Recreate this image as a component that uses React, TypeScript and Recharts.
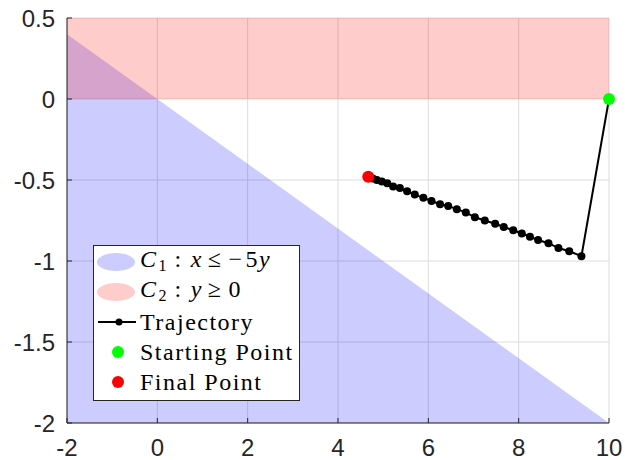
import React from 'react';
import { ComposedChart, Area, Line, XAxis, YAxis, CartesianGrid, Legend } from 'recharts';

const xTicks = [-2, 0, 2, 4, 6, 8, 10];
const yTicks = [-2, -1.5, -1, -0.5, 0, 0.5];

// region boundaries sampled at the x-limits
const regionX = [-2, 10];
const c1Upper = [0.4, -2]; // x <= -5y
const c2Upper = [0.5, 0.5]; // y >= 0

const trajX = [10, 9.39, 9.12, 8.88, 8.66, 8.43, 8.25, 8.07, 7.88, 7.67, 7.48, 7.25, 7.03, 6.83, 6.63, 6.44, 6.26, 6.07, 5.89, 5.7, 5.53, 5.37, 5.22, 5.09, 4.97, 4.86, 4.77, 4.67];
const trajY = [0, -0.97, -0.94, -0.92, -0.89, -0.87, -0.85, -0.83, -0.81, -0.79, -0.77, -0.75, -0.73, -0.7, -0.68, -0.66, -0.65, -0.63, -0.61, -0.59, -0.57, -0.55, -0.54, -0.52, -0.51, -0.5, -0.49, -0.48];

const startX = [10];
const startY = [0];
const finalX = [4.67];
const finalY = [-0.48];

const regionData = regionX.map((x, i) => ({ x, c1: c1Upper[i], c2: c2Upper[i] }));
const trajData = trajX.map((x, i) => ({ x, y: trajY[i] }));
const startData = startX.map((x, i) => ({ x, y: startY[i] }));
const finalData = finalX.map((x, i) => ({ x, y: finalY[i] }));

const AXIS = '#262626';

const Row = ({ icon, children }: { icon: React.ReactNode; children: React.ReactNode }) => (
  <div style={{ display: 'flex', alignItems: 'center', height: 30 }}>
    <svg width={46} height={30} style={{ flex: 'none' }}>{icon}</svg>
    <div style={{ whiteSpace: 'nowrap', lineHeight: '30px' }}>{children}</div>
  </div>
);

const sub = { fontSize: 16, verticalAlign: '-4px', letterSpacing: 0 } as React.CSSProperties;

const LegendBox = () => (
  <div
    style={{
      border: '1px solid ' + AXIS,
      background: '#fff',
      width: 207,
      height: 156,
      boxSizing: 'border-box',
      paddingTop: 1,
      fontFamily: '"Liberation Serif", serif',
      fontSize: 24,
      letterSpacing: '1.5px',
      color: '#000',
    }}
  >
    <Row icon={<ellipse cx={22} cy={15} rx={19} ry={9} fill="blue" fillOpacity={0.2} />}>
      <i style={{ marginRight: 1 }}>C</i><span style={sub}>1</span>
      <span style={{ margin: '0 8px' }}>:</span>
      <i>x</i>
      <span style={{ margin: '0 6px 0 5px' }}>≤</span>
      <span style={{ marginRight: 2 }}>−</span>5<i>y</i>
    </Row>
    <Row icon={<ellipse cx={22} cy={15} rx={19} ry={9} fill="red" fillOpacity={0.2} />}>
      <i style={{ marginRight: 1 }}>C</i><span style={sub}>2</span>
      <span style={{ margin: '0 8px' }}>:</span>
      <i>y</i>
      <span style={{ margin: '0 6px 0 5px' }}>≥</span>0
    </Row>
    <Row
      icon={
        <g>
          <line x1={4} y1={15} x2={42} y2={15} stroke="#000" strokeWidth={2} />
          <circle cx={25} cy={15} r={3.5} fill="#000" />
        </g>
      }
    >
      Trajectory
    </Row>
    <Row icon={<circle cx={24} cy={15} r={6} fill="#00ff00" />}>Starting Point</Row>
    <Row icon={<circle cx={24} cy={15} r={6} fill="#ff0000" />}>Final Point</Row>
  </div>
);

const tickStyle = { fontFamily: '"Liberation Sans", Arial, sans-serif', fontSize: 24, fill: AXIS };

export default function App() {
  return (
    <div style={{ position: 'absolute', left: 0, top: 0, width: 625, height: 460, background: '#fff' }}>
      <ComposedChart width={625} height={460} data={regionData} margin={{ top: 18, right: 16, bottom: 0, left: 0 }}>
        <CartesianGrid stroke="#dcdcdc" strokeWidth={1} horizontalValues={yTicks} verticalValues={xTicks} />
        <XAxis
          type="number"
          dataKey="x"
          domain={[-2, 10]}
          ticks={xTicks}
          height={37}
          tickSize={-5}
          tickMargin={21}
          tick={tickStyle}
          stroke={AXIS}
          axisLine={{ stroke: AXIS }}
          tickLine={{ stroke: AXIS }}
        />
        <YAxis
          type="number"
          domain={[-2, 0.5]}
          ticks={yTicks}
          width={67}
          tickSize={-5}
          tickMargin={17}
          tick={tickStyle}
          stroke={AXIS}
          axisLine={{ stroke: AXIS }}
          tickLine={{ stroke: AXIS }}
        />
        <Area
          type="linear"
          dataKey="c1"
          baseValue={-2}
          stroke="none"
          fill="blue"
          fillOpacity={0.2}
          isAnimationActive={false}
          dot={false}
          activeDot={false}
        />
        <Area
          type="linear"
          dataKey="c2"
          baseValue={0}
          stroke="none"
          fill="red"
          fillOpacity={0.2}
          isAnimationActive={false}
          dot={false}
          activeDot={false}
        />
        <Line
          data={trajData}
          type="linear"
          dataKey="y"
          stroke="#000"
          strokeWidth={2}
          dot={{ r: 4, fill: '#000', stroke: 'none' }}
          activeDot={false}
          isAnimationActive={false}
        />
        <Line
          data={startData}
          type="linear"
          dataKey="y"
          stroke="none"
          dot={{ r: 6, fill: '#00ff00', stroke: 'none' }}
          activeDot={false}
          isAnimationActive={false}
        />
        <Line
          data={finalData}
          type="linear"
          dataKey="y"
          stroke="none"
          dot={{ r: 6, fill: '#ff0000', stroke: 'none' }}
          activeDot={false}
          isAnimationActive={false}
        />
        <Legend
          layout="vertical"
          align="center"
          verticalAlign="middle"
          content={() => <LegendBox />}
          wrapperStyle={{ left: 93, top: 245, width: 207, height: 156 }}
        />
      </ComposedChart>
    </div>
  );
}
